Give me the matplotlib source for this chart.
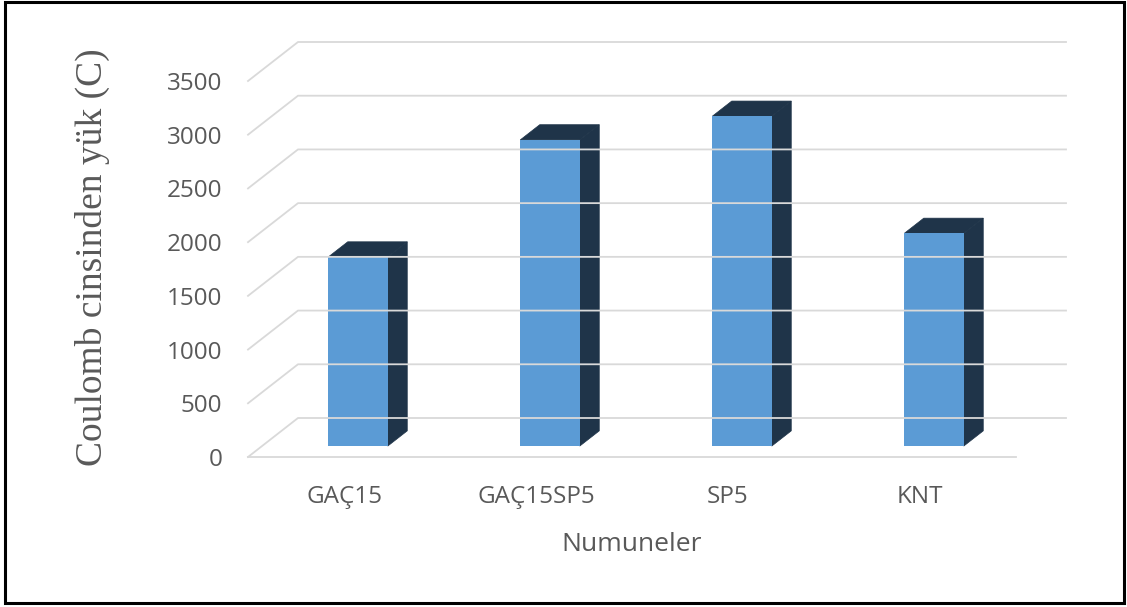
import numpy as np
import matplotlib.pyplot as plt
from matplotlib.patches import Polygon, Rectangle
from matplotlib.lines import Line2D
from matplotlib.transforms import ScaledTranslation

categories = ['GAÇ15', 'GAÇ15SP5', 'SP5', 'KNT']
charge = [1760, 2850, 3070, 1980]
yticks = [0, 500, 1000, 1500, 2000, 2500, 3000, 3500]

FRONT = '#5b9bd5'
SHADE = '#1f3449'
GRID = '#d9d9d9'
TEXT = '#595959'

# oblique 3D look: full floor depth as an (x, y) offset in inches
DEPTH = (0.50, 0.39)
BAR_Z = (0.28, 0.67)   # front / back depth of the bars
BAR_W = 0.31

W, H = 1127, 607
fig = plt.figure(figsize=(W / 100, H / 100), dpi=100)
ax = fig.add_axes([248 / W, 150 / H, 768 / W, 376 / H])
ax.set_xlim(0, len(categories))
ax.set_ylim(0, 3500)
ax.patch.set_visible(False)
for s in ax.spines.values():
    s.set_visible(False)


def shift(z):
    return ax.transData + ScaledTranslation(DEPTH[0] * z, DEPTH[1] * z,
                                            fig.dpi_scale_trans)


def to_fig(points):
    # points are (x, value, depth) -> figure fraction
    out = []
    for x, v, z in points:
        d = shift(z).transform((x, v))
        out.append(fig.transFigure.inverted().transform(d))
    return np.array(out)


# walls and floor gridlines
for v in yticks:
    p = to_fig([(0, v, 0), (0, v, 1), (len(categories), v, 1)])
    fig.lines.append(Line2D(p[:, 0], p[:, 1], color=GRID, lw=1.3,
                            transform=fig.transFigure, zorder=1))
p = to_fig([(0, 0, 0), (len(categories), 0, 0)])
fig.lines.append(Line2D(p[:, 0], p[:, 1], color=GRID, lw=1.3,
                        transform=fig.transFigure, zorder=1))

xpos = np.arange(len(categories)) + 0.5
z0, z1 = BAR_Z

# side and top faces of each bar
for x, v in zip(xpos, charge):
    xl, xr = x - BAR_W / 2, x + BAR_W / 2
    side = to_fig([(xr, 0, z0), (xr, 0, z1), (xr, v, z1), (xr, v, z0)])
    top = to_fig([(xl, v, z0), (xr, v, z0), (xr, v, z1), (xl, v, z1)])
    for face in (side, top):
        ax.add_patch(Polygon(face, closed=True, fc=SHADE, ec=SHADE, lw=0.5,
                             transform=fig.transFigure, clip_on=False,
                             zorder=2))

# front faces
ax.bar(xpos, charge, width=BAR_W, color=FRONT, transform=shift(z0),
       clip_on=False, zorder=3)

ax.set_yticks(yticks)
ax.set_xticks(xpos)
ax.set_xticklabels(categories)
ax.tick_params(axis='y', length=0, pad=18.5, labelsize=17.5, labelcolor=TEXT)
ax.tick_params(axis='x', length=0, pad=20, labelsize=17.5, labelcolor=TEXT)
for lab in ax.get_xticklabels() + ax.get_yticklabels():
    lab.set_family('Open Sans')

ax.set_xlabel('Numuneler', fontsize=19, color=TEXT, family='Open Sans',
              labelpad=17)
fig.text(92 / W, 1 - 257 / H, 'Coulomb cinsinden yük (C)', rotation=90,
         ha='center', va='center', fontsize=27, color=TEXT,
         family='Liberation Serif')

# outer frame
fig.patches.append(Rectangle((5 / W, 4 / H), 1119 / W, 601 / H,
                             transform=fig.transFigure, fill=False,
                             ec='black', lw=2.2))

fig.savefig('out.png', dpi=100)
